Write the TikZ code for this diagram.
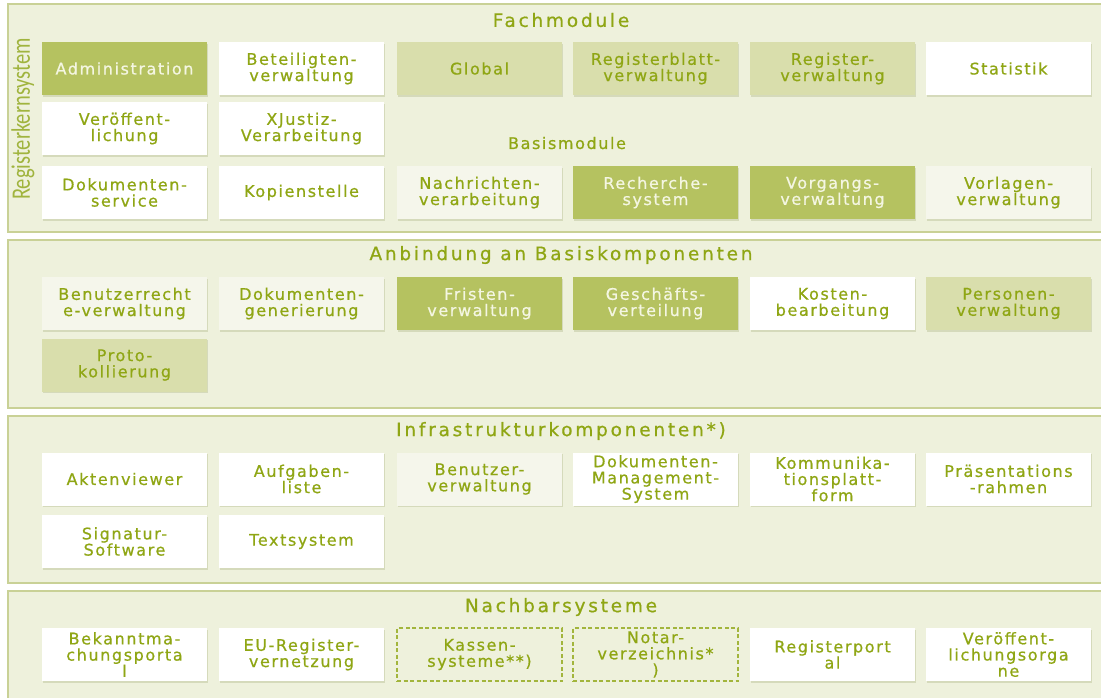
\documentclass[tikz,border=0pt]{standalone}
\usepackage{graphicx}
\usepackage{fontspec}
\setmainfont{DejaVu Sans}
\newfontfamily\boxfont{DejaVu Sans}[LetterSpace=10,FakeBold=0.7]
\newfontfamily\titlefont{DejaVu Sans}[LetterSpace=15,FakeBold=0.7]
\newfontfamily\vertfont{Carlito}
\usetikzlibrary{shadows}
\definecolor{panelfill}{HTML}{EEF1DC}
\definecolor{panelborder}{HTML}{C9D196}
\definecolor{txt}{HTML}{8FA614}
\definecolor{vtxt}{HTML}{A0B43E}
\definecolor{darkbox}{HTML}{B5C260}
\definecolor{medbox}{HTML}{D9DEAC}
\definecolor{offbox}{HTML}{F5F6EB}
\definecolor{darktxt}{HTML}{F4F6E2}
\definecolor{shadowc}{HTML}{9DA870}
\begin{document}
\begin{tikzpicture}[x=1pt,y=-1pt,
  panel/.style={draw=panelborder, line width=1.6pt, fill=panelfill, inner sep=0pt},
  title/.style={text=txt, font=\titlefont\fontsize{18.5}{19}\selectfont, inner sep=0pt},
  sub/.style={text=txt, font=\boxfont\fontsize{16}{16.5}\selectfont, inner sep=0pt},
  box/.style={minimum width=165pt, minimum height=53pt, text width=164pt, align=center,
    inner sep=0pt, text=txt, font=\boxfont\fontsize{16}{16.2}\selectfont, fill=white,
    drop shadow={shadow xshift=0.8pt, shadow yshift=-1.6pt, opacity=0.3, fill=shadowc}},
  wbox/.style={box, fill=white},
  obox/.style={box, fill=offbox},
  mbox/.style={box, fill=medbox},
  dbox/.style={box, fill=darkbox, text=darktxt},
  xbox/.style={minimum width=165pt, minimum height=53pt, text width=164pt, align=center,
    inner sep=0pt, text=txt, font=\boxfont\fontsize{16}{16.2}\selectfont, fill=panelfill,
    draw=txt!80!panelfill, line width=1.1pt, dash pattern=on 4pt off 2.5pt}
]
\useasboundingbox (0,0) rectangle (1101,697);
\clip (0,0) rectangle (1101,697);
\fill[white] (0,0) rectangle (1101,697);

% panels
\node[panel, minimum width=1100pt, minimum height=228pt] (p1) at (558,118) {};
\node[panel, minimum width=1100pt, minimum height=168pt] (p2) at (558,324) {};
\node[panel, minimum width=1100pt, minimum height=167pt] (p3) at (558,499.5) {};
\node[panel, minimum width=1100pt, minimum height=120pt] (p4) at (558,651) {};

% titles
\node[title] (t1) at (561,20) {Fachmodule};
\node[sub] (t1b) at (567,143) {Basismodule};
\node[title] (t2) at (561,255) {Anbindung an Basiskomponenten};
\node[title] (t3) at (561,431) {Infrastrukturkomponenten*)};
\node[title] (t4) at (561,607) {Nachbarsysteme};
\node[rotate=90, text=vtxt, inner sep=0pt, font=\vertfont\fontsize{20.5}{21}\selectfont] (vl) at (23,119)
  {\scalebox{1}[1.3]{Registerkernsystem}};

% Panel 1
\node[dbox] (a1) at (124.5,68.5) {Administration};
\node[wbox] (a2) at (301.5,68.5) {Beteiligten-\\verwaltung};
\node[mbox] (a3) at (479.5,68.5) {Global};
\node[mbox] (a4) at (655.5,68.5) {Registerblatt-\\verwaltung};
\node[mbox] (a5) at (832.5,68.5) {Register-\\verwaltung};
\node[wbox] (a6) at (1008.5,68.5) {Statistik};
\node[wbox] (b1) at (124.5,128.5) {Veröffent-\\lichung};
\node[wbox] (b2) at (301.5,128.5) {XJustiz-\\Verarbeitung};
\node[wbox] (c1) at (124.5,192.5) {Dokumenten-\\service};
\node[wbox] (c2) at (301.5,192.5) {Kopienstelle};
\node[obox] (c3) at (479.5,192.5) {Nachrichten-\\verarbeitung};
\node[dbox] (c4) at (655.5,192.5) {Recherche-\\system};
\node[dbox] (c5) at (832.5,192.5) {Vorgangs-\\verwaltung};
\node[obox] (c6) at (1008.5,192.5) {Vorlagen-\\verwaltung};

% Panel 2
\node[obox] (d1) at (124.5,303.5) {Benutzerrecht\\e-verwaltung};
\node[obox] (d2) at (301.5,303.5) {Dokumenten-\\generierung};
\node[dbox] (d3) at (479.5,303.5) {Fristen-\\verwaltung};
\node[dbox] (d4) at (655.5,303.5) {Geschäfts-\\verteilung};
\node[wbox] (d5) at (832.5,303.5) {Kosten-\\bearbeitung};
\node[mbox] (d6) at (1008.5,303.5) {Personen-\\verwaltung};
\node[mbox] (e1) at (124.5,365) {Proto-\\kollierung};

% Panel 3
\node[wbox] (f1) at (124.5,479) {Aktenviewer};
\node[wbox] (f2) at (301.5,479) {Aufgaben-\\liste};
\node[obox] (f3) at (479.5,479) {Benutzer-\\verwaltung};
\node[wbox] (f4) at (655.5,479) {Dokumenten-\\Management-\\System};
\node[wbox] (f5) at (832.5,479) {Kommunika-\\tionsplatt-\\form};
\node[wbox] (f6) at (1008.5,479) {Präsentations\\-rahmen};
\node[wbox] (g1) at (124.5,541.5) {Signatur-\\Software};
\node[wbox] (g2) at (301.5,541.5) {Textsystem};

% Panel 4
\node[wbox] (h1) at (124.5,654.5) {Bekanntma-\\chungsporta\\l};
\node[wbox] (h2) at (301.5,654.5) {EU-Register-\\vernetzung};
\node[xbox] (h3) at (479.5,654.5) {Kassen-\\systeme**)};
\node[xbox] (h4) at (655.5,654.5) {Notar-\\verzeichnis*\\*)};
\node[wbox] (h5) at (832.5,654.5) {Registerport\\al};
\node[wbox] (h6) at (1008.5,654.5) {Veröffent-\\lichungsorga\\ne};
\end{tikzpicture}
\end{document}
